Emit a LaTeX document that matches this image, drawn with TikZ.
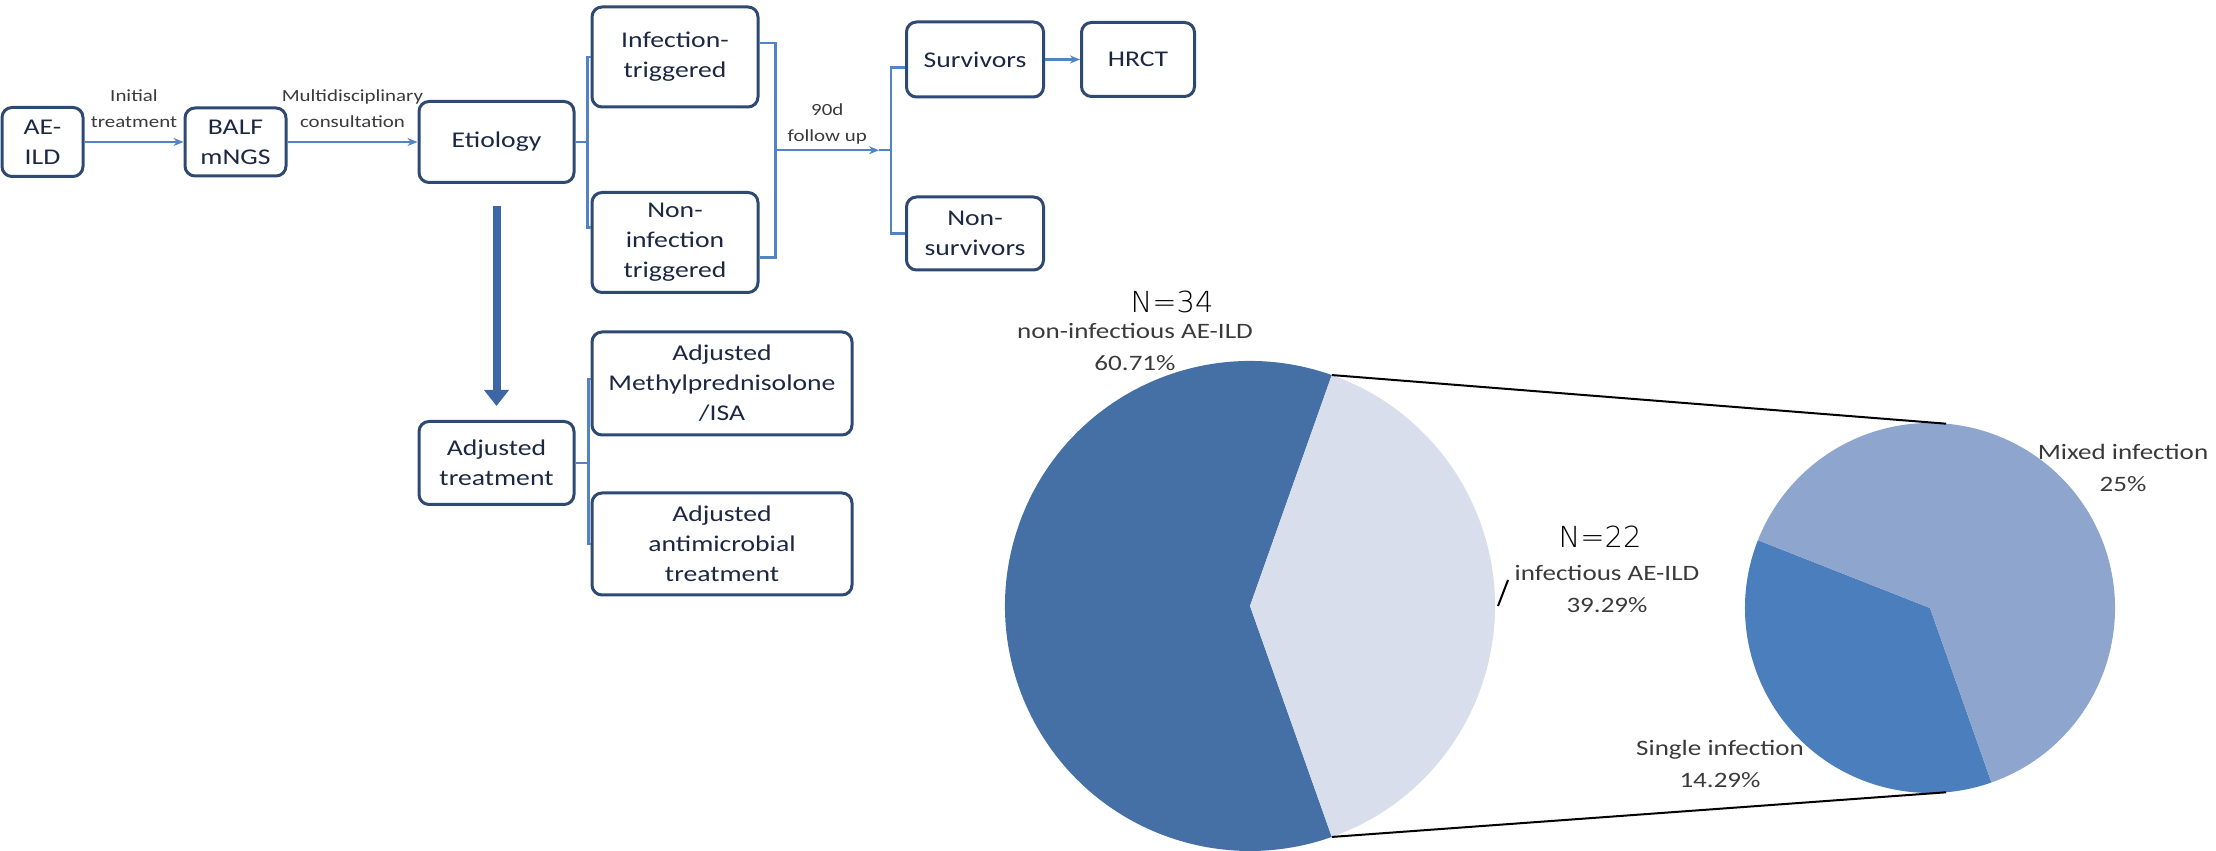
\documentclass[tikz,border=0pt]{standalone}
\usepackage{fontspec}
\setmainfont{Carlito}[FakeStretch=1.23]
\newfontfamily\thinfont{DejaVu Sans ExtraLight}
\usepackage{tikz}
\usetikzlibrary{arrows,arrows.meta,positioning,calc}

\definecolor{boxline}{HTML}{2E4A72}
\definecolor{boxtext}{HTML}{1C2742}
\definecolor{flowline}{HTML}{5383C2}
\definecolor{bigarrow}{HTML}{3D66A6}
\definecolor{piedark}{HTML}{4470A5}
\definecolor{pielight}{HTML}{D9DEEC}
\definecolor{subdark}{HTML}{4A7EBC}
\definecolor{sublight}{HTML}{8EA5CE}
\definecolor{labelgrey}{HTML}{3A3A3A}

\begin{document}
\begin{tikzpicture}[
    x=1pt, y=1pt,
    font=\fontsize{22.5}{30}\selectfont,
    box/.style={draw=boxline, line width=3pt, rounded corners=10pt, text=boxtext, inner sep=0pt, align=center},
    link/.style={draw=flowline, line width=2.2pt},
    steplabel/.style={font=\fontsize{17}{26}\selectfont, text=labelgrey, align=center},
    pielabel/.style={font=\fontsize{22}{32}\selectfont, text=labelgrey, align=center},
    countlabel/.style={font=\thinfont\fontsize{29}{34}\selectfont, text=black}
]
\useasboundingbox (0,0) rectangle (2216,851);

\node[box, minimum width=81pt, minimum height=69pt] (aeild) at (42.5,709) {AE-\\ILD};
\node[box, minimum width=101pt, minimum height=68pt, right=99pt of aeild] (balf) {BALF\\mNGS};
\node[box, minimum width=155pt, minimum height=81pt, right=130pt of balf] (etio) {Etiology};
\node[box, minimum width=166pt, minimum height=100pt] (inftrig) at (675,794) {Infection-\\triggered};
\node[box, minimum width=166pt, minimum height=100pt] (noninf) at (675,608.5) {Non-\\infection\\triggered};
\node[box, minimum width=137pt, minimum height=75pt] (surv) at (975,791.5) {Survivors};
\node[box, minimum width=137pt, minimum height=73pt] (nonsurv) at (975,617.5) {Non-\\survivors};
\node[box, minimum width=113pt, minimum height=74pt, right=35pt of surv] (hrct) {HRCT};
\node[box, minimum width=155pt, minimum height=83pt, below=236pt of etio] (adjtreat) {Adjusted\\treatment};
\node[box, minimum width=260pt, minimum height=103pt] (methyl) at (722,467.5) {Adjusted\\Methylprednisolone\\/ISA};
\node[box, minimum width=260pt, minimum height=102pt] (antimic) at (722,307) {Adjusted\\antimicrobial\\treatment};

\draw[link, ->, >={Stealth[length=10pt,width=8pt]}] (aeild) -- node[steplabel, yshift=33pt]{Initial\\treatment} (balf);
\draw[link, ->, >={Stealth[length=10pt,width=8pt]}] (balf) -- node[steplabel, yshift=33pt]{Multidisciplinary\\consultation} (etio);

\draw[link] (etio.east) -- ++(12,0) coordinate (etiofork) |- (inftrig.west);
\draw[link] (etiofork) |- ([yshift=15pt]noninf.west);

\draw[link] ([yshift=14pt]inftrig.east) -- ++(16,0) |- coordinate[pos=0.25] (followstart) ([yshift=-15pt]noninf.east);
\coordinate (survfork) at ([xshift=-14pt]surv.west |- followstart);
\draw[link, ->, >={Stealth[length=10pt,width=8pt]}] (followstart) -- node[steplabel, yshift=26pt]{90d\\follow up} ([xshift=-12pt]survfork);
\draw[link] ([xshift=-12pt]survfork) -- (survfork) |- ([yshift=-8pt]surv.west);
\draw[link] (survfork) |- (nonsurv.west);
\draw[link, ->, >={Stealth[length=10pt,width=8pt]}] (surv) -- (hrct);

\draw[draw=bigarrow, line width=8pt, -{Triangle[width=24pt,length=16pt]}, shorten <=22pt, shorten >=14pt] (etio) -- (adjtreat);

\draw[link] (adjtreat.east) -- ++(13,0) coordinate (adjfork) |- ([yshift=4.5pt]methyl.west);
\draw[link] (adjfork) |- (antimic.west);

\coordinate (bigc) at (1250,245);
\coordinate (subc) at (1930,243);
\fill[piedark] (bigc) -- ++(70.5:245) arc[start angle=70.5, end angle=289.5, radius=245] -- cycle;
\fill[pielight] (bigc) -- ++(-70.5:245) arc[start angle=-70.5, end angle=70.5, radius=245] -- cycle;
\fill[subdark] (subc) -- ++(158.5:185) arc[start angle=158.5, end angle=289.4, radius=185] -- cycle;
\fill[sublight] (subc) -- ++(289.4:185) arc[start angle=289.4, end angle=518.5, radius=185] -- cycle;

\coordinate (bigtop) at ($(bigc)+(70.5:245)$);
\coordinate (bigbot) at ($(bigc)+(-70.5:245)$);
\coordinate (subtop) at ($(subc)+(85:185)$);
\coordinate (subbot) at ($(subc)+(-85:185)$);
\draw[black, line width=2pt] (bigtop) -- (subtop);
\draw[black, line width=2pt] (bigbot) -- (subbot);

\coordinate (leadlow) at (1498,245);
\coordinate (leadhigh) at (1508,271);
\draw[black, line width=2pt] (leadlow) -- (leadhigh);

\node[countlabel] (nnon) at (1172,549) {N=34};
\node[pielabel] (lnon) at (1135,504) {non-infectious AE-ILD\\60.71\%};
\node[countlabel] (ninf) at (1600,314) {N=22};
\node[pielabel] (linf) at (1607,262.5) {infectious AE-ILD\\39.29\%};
\node[pielabel] (lmix) at (2123,383.5) {Mixed infection\\25\%};
\node[pielabel] (lsingle) at (1720,87.5) {Single infection\\14.29\%};

\end{tikzpicture}
\end{document}
